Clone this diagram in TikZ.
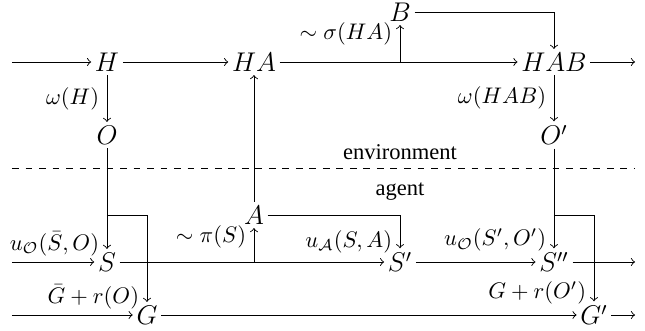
\documentclass[tikz,border=0pt]{standalone}
\usepackage[no-math]{fontspec}
\setmainfont{Liberation Serif}
\usetikzlibrary{calc}
\tikzset{
  var/.style={font=\large,inner sep=1.5pt},
  flow/.style={->},
}

\begin{document}
\begin{tikzpicture}
\useasboundingbox (0,0) rectangle (10.062,5.148);

\node[var] (H) at (1.669,4.181) {$H$};
\node[var] (HA) at (3.962,4.181) {$HA$};
\node[var] (HAB) at (8.642,4.181) {$HAB$};
\node[var] (B) at (6.240,4.961) {$B$};
\node[var] (O) at (1.669,3.042) {$O$};
\node[var] (Op) at (8.642,3.042) {$O'$};
\node[var] (A) at (3.962,1.794) {$A$};
\node[var] (S) at (1.669,1.061) {$S$};
\node[var] (Sp) at (6.240,1.061) {$S'$};
\node[var] (Spp) at (8.642,1.061) {$S''$};
\node[var] (G) at (2.293,0.234) {$G$};
\node[var] (Gp) at (9.266,0.234) {$G'$};

\coordinate (inH) at (0.187,4.181);
\coordinate (outH) at (9.906,4.181);
\coordinate (inS) at (0.187,1.061);
\coordinate (outS) at (9.906,1.061);
\coordinate (inG) at (0.187,0.234);
\coordinate (outG) at (9.906,0.234);
\coordinate (sig) at (B |- HA);
\coordinate (pol) at (A |- S);
\coordinate (obsL) at (O |- A);
\coordinate (obsR) at (Op |- A);
\coordinate (sepL) at (0.187,2.527);
\coordinate (sepR) at (9.906,2.527);

\draw[dashed] (sepL) -- (sepR);
\node[above] (env) at (6.240,2.527) {environment};
\node[below] (agt) at (6.240,2.427) {agent};

\draw[flow] (inH) -- (H);
\draw[flow] (H) -- (HA);
\draw[flow] (HA) -- (HAB);
\draw[flow] (HAB) -- (outH);
\draw[flow] (sig) -- node[near end,left] {$\sim\sigma(HA)$} (B);
\draw[flow] (B) -| (HAB);
\draw[flow] (H) -- node[left] {$\omega(H)$} (O);
\draw[flow] (HAB) -- node[left] {$\omega(HAB)$} (Op);
\draw[flow] (A) -- (HA);

\draw[flow] (inS) -- (S);
\draw[flow] (S) -- (Sp);
\draw[flow] (Sp) -- (Spp);
\draw[flow] (Spp) -- (outS);
\draw[flow] (pol) -- node[near end,left] {$\sim\pi(S)$} (A);
\draw[flow] (A) -| node[pos=0.9,left] {$u_{\mathcal{A}}(S,A)$} (Sp);
\draw[flow] (O) -- node[pos=0.95,left] {$u_{\mathcal{O}}(\bar{S},O)$} (S);
\draw[flow] (Op) -- node[pos=0.92,left] {$u_{\mathcal{O}}(S',O')$} (Spp);

\draw[flow] (inG) -- (G);
\draw[flow] (G) -- (Gp);
\draw[flow] (Gp) -- (outG);
\draw[flow] (obsL) -| node[pos=0.97,left] {$\bar{G}+r(O)$} (G);
\draw[flow] (obsR) -| node[pos=0.95,left] {$G+r(O')$} (Gp);
\end{tikzpicture}
\end{document}
